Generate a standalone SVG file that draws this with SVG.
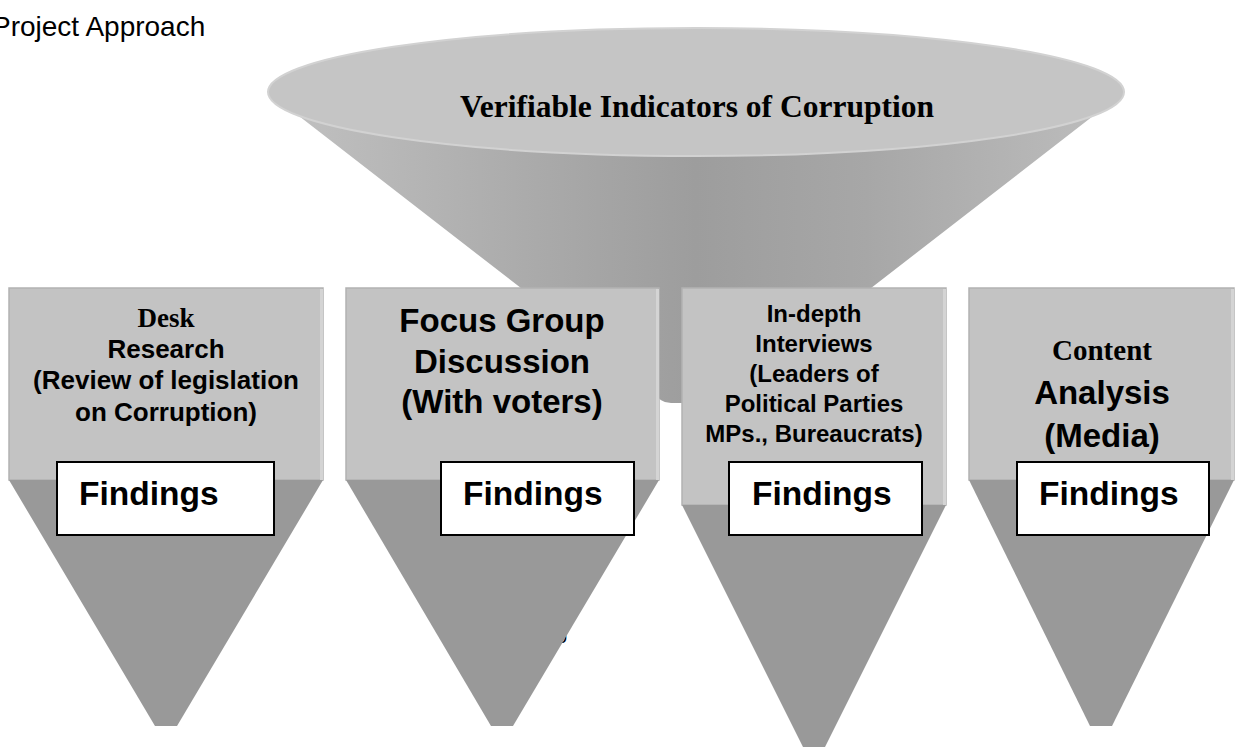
<svg xmlns="http://www.w3.org/2000/svg" width="1236" height="747" viewBox="0 0 1236 747">
  <defs>
    <linearGradient id="coneFill" gradientUnits="userSpaceOnUse" x1="268" y1="0" x2="1124" y2="0">
      <stop offset="0" stop-color="#c2c2c2"/>
      <stop offset="0.3" stop-color="#ababab"/>
      <stop offset="0.5" stop-color="#9d9d9d"/>
      <stop offset="0.7" stop-color="#a7a7a7"/>
      <stop offset="1" stop-color="#bebebe"/>
    </linearGradient>
    <style>
      .panel { fill: #c3c3c3; stroke: #b2b2b2; stroke-width: 1.5; }
      .edge { fill: #d4d4d4; }
      .tail { fill: #999999; }
      .findings { fill: #ffffff; stroke: #000000; stroke-width: 2; }
      .sans { font-family: "Liberation Sans", Arial, sans-serif; font-weight: bold; fill: #000; }
      .serif { font-family: "Liberation Serif", "Times New Roman", serif; font-weight: bold; fill: #000; }
      .find-label { font-family: "Liberation Sans", Arial, sans-serif; font-weight: bold; font-size: 33.5px; fill: #000; }
    </style>
  </defs>

  <rect width="1236" height="747" fill="#ffffff"/>

  <!-- page heading -->
  <text id="title" x="-8" y="36" font-family="'Liberation Sans', Arial, sans-serif" font-size="28" fill="#000">Project Approach</text>

  <!-- central funnel -->
  <g id="funnel">
    <path d="M268,92 L655,392 Q659,403 671,403 L721,403 Q733,403 737,392 L1124,92 Z" fill="url(#coneFill)"/>
    <ellipse cx="696" cy="92" rx="428" ry="64" fill="#c5c5c5" stroke="#d2d2d2" stroke-width="2"/>
    <text x="697" y="117" text-anchor="middle" class="serif" font-size="31.5">Verifiable Indicators of Corruption</text>
  </g>

  <!-- stray glyph partly hidden behind the second panel -->
  <text x="556" y="643" font-family="'Liberation Sans', Arial, sans-serif" font-size="20" fill="#000">o</text>

  <g id="connectors"/>

  <!-- method 1 -->
  <g id="desk-research">
    <rect class="panel" x="9" y="288" width="314" height="192"/>
    <rect class="edge" x="320" y="289" width="3" height="191"/>
    <path class="tail" d="M9,480 L323,480 L177,726 L155,726 Z"/>
    <text x="166" y="327" text-anchor="middle" class="serif" font-size="27">Desk</text>
    <text x="166" y="358" text-anchor="middle" class="sans" font-size="26">Research</text>
    <text x="166" y="389" text-anchor="middle" class="sans" font-size="26">(Review of legislation</text>
    <text x="166" y="421" text-anchor="middle" class="sans" font-size="26">on Corruption)</text>
    <rect class="findings" x="57" y="462" width="217" height="73"/>
    <text x="79" y="505" class="find-label">Findings</text>
  </g>

  <!-- method 2 -->
  <g id="focus-group">
    <rect class="panel" x="346" y="288" width="313" height="192"/>
    <rect class="edge" x="656" y="289" width="3" height="191"/>
    <path class="tail" d="M346,480 L659,480 L513,726 L491,726 Z"/>
    <text x="502" y="332" text-anchor="middle" class="sans" font-size="33">Focus Group</text>
    <text x="502" y="373" text-anchor="middle" class="sans" font-size="33">Discussion</text>
    <text x="502" y="413" text-anchor="middle" class="sans" font-size="33">(With voters)</text>
    <rect class="findings" x="441" y="462" width="193" height="73"/>
    <text x="463" y="505" class="find-label">Findings</text>
  </g>

  <!-- method 3 -->
  <g id="in-depth-interviews">
    <rect class="panel" x="682" y="288" width="264" height="217"/>
    <rect class="edge" x="943" y="289" width="3" height="216"/>
    <path class="tail" d="M682,505 L946,505 L825,747 L803,747 Z"/>
    <text x="814" y="322" text-anchor="middle" class="sans" font-size="24">In-depth</text>
    <text x="814" y="352" text-anchor="middle" class="sans" font-size="24">Interviews</text>
    <text x="814" y="382" text-anchor="middle" class="sans" font-size="24">(Leaders of</text>
    <text x="814" y="412" text-anchor="middle" class="sans" font-size="24">Political Parties</text>
    <text x="814" y="442" text-anchor="middle" class="sans" font-size="24">MPs., Bureaucrats)</text>
    <rect class="findings" x="729" y="462" width="193" height="73"/>
    <text x="752" y="505" class="find-label">Findings</text>
  </g>

  <!-- method 4 -->
  <g id="content-analysis">
    <rect class="panel" x="969" y="288" width="265" height="192"/>
    <rect class="edge" x="1231" y="289" width="3" height="191"/>
    <path class="tail" d="M969,480 L1234,480 L1112,726 L1090,726 Z"/>
    <text x="1102" y="360" text-anchor="middle" class="serif" font-size="29">Content</text>
    <text x="1102" y="404" text-anchor="middle" class="sans" font-size="33">Analysis</text>
    <text x="1102" y="447" text-anchor="middle" class="sans" font-size="33">(Media)</text>
    <rect class="findings" x="1017" y="462" width="192" height="73"/>
    <text x="1039" y="505" class="find-label">Findings</text>
  </g>
</svg>
